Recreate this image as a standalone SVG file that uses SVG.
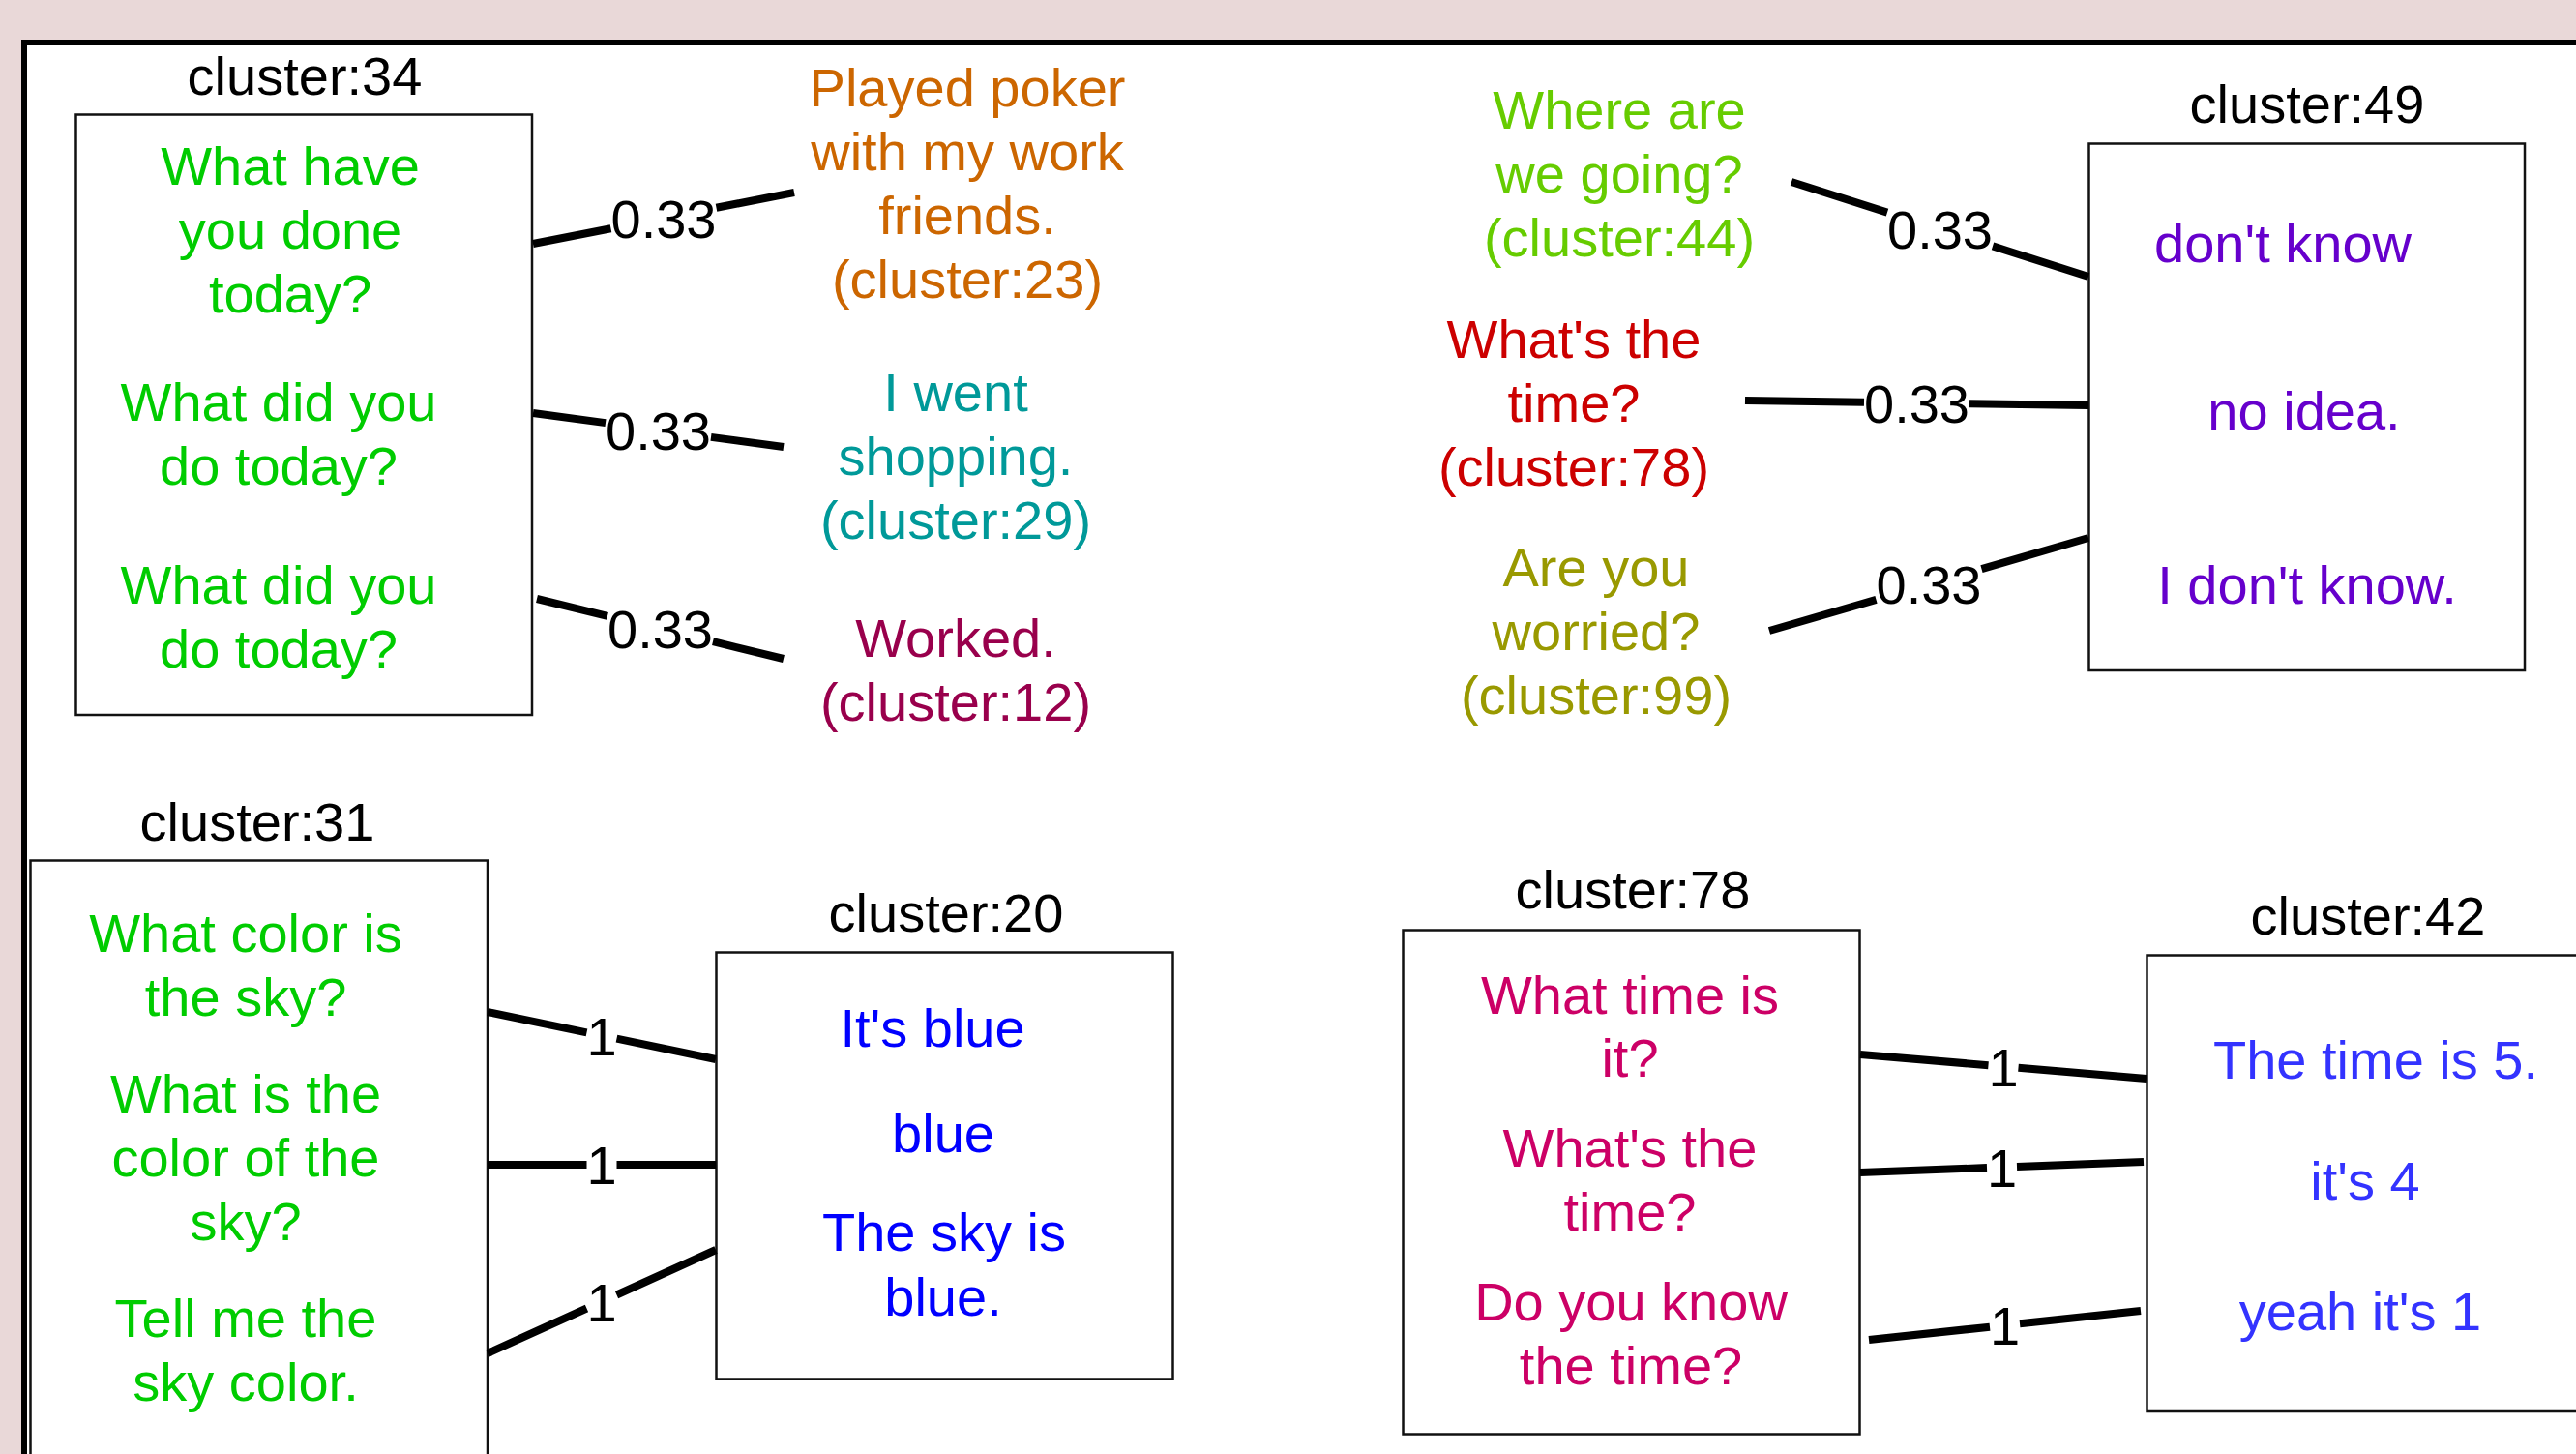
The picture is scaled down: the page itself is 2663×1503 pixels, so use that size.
<svg xmlns="http://www.w3.org/2000/svg" width="2663" height="1503" viewBox="0 0 2663 1503">
<style>
text{font-family:"Liberation Sans",Arial,Helvetica,sans-serif;font-size:56px;text-anchor:middle}
.box{fill:none;stroke:#111;stroke-width:2.5}
.cap{fill:#000}
.e{stroke:#000;stroke-width:8;fill:none}
.el{fill:#000}
.green{fill:#00cc00}
.orange{fill:#cc6600}
.teal{fill:#009999}
.maroon{fill:#99004c}
.lime{fill:#66cc00}
.red{fill:#cc0000}
.olive{fill:#999900}
.purple{fill:#6600cc}
.blue{fill:#0000ff}
.magenta{fill:#cc0066}
.blue2{fill:#3333ff}
</style>
<rect x="0" y="0" width="2663" height="1503" fill="#e9d8d8"/>
<rect x="25" y="44" width="2700" height="1520" fill="#ffffff" stroke="#000" stroke-width="6"/>

<g id="cluster34">
<text class="cap" x="315" y="98">cluster:34</text>
<rect class="box" x="78.5" y="118.5" width="471.5" height="620.5"/>
<text class="green" x="300" y="191">What have</text>
<text class="green" x="300" y="257">you done</text>
<text class="green" x="300" y="323">today?</text>
<text class="green" x="288" y="435">What did you</text>
<text class="green" x="288" y="501">do today?</text>
<text class="green" x="288" y="624">What did you</text>
<text class="green" x="288" y="690">do today?</text>
</g>

<g id="cluster23">
<text class="orange" x="1000" y="110">Played poker</text>
<text class="orange" x="1000" y="176">with my work</text>
<text class="orange" x="1000" y="242">friends.</text>
<text class="orange" x="1000" y="308">(cluster:23)</text>
</g>

<g id="cluster29">
<text class="teal" x="988" y="425">I went</text>
<text class="teal" x="988" y="491">shopping.</text>
<text class="teal" x="988" y="557">(cluster:29)</text>
</g>

<g id="cluster12">
<text class="maroon" x="988" y="679">Worked.</text>
<text class="maroon" x="988" y="745">(cluster:12)</text>
</g>

<g id="cluster44">
<text class="lime" x="1674" y="133">Where are</text>
<text class="lime" x="1674" y="199">we going?</text>
<text class="lime" x="1674" y="265">(cluster:44)</text>
</g>

<g id="cluster78q">
<text class="red" x="1627" y="370">What's the</text>
<text class="red" x="1627" y="436">time?</text>
<text class="red" x="1627" y="502">(cluster:78)</text>
</g>

<g id="cluster99">
<text class="olive" x="1650" y="606">Are you</text>
<text class="olive" x="1650" y="672">worried?</text>
<text class="olive" x="1650" y="738">(cluster:99)</text>
</g>

<g id="cluster49">
<text class="cap" x="2385" y="127">cluster:49</text>
<rect class="box" x="2159.5" y="148.5" width="450.5" height="544.5"/>
<text class="purple" x="2360" y="271">don't know</text>
<text class="purple" x="2382" y="444">no idea.</text>
<text class="purple" x="2385" y="624">I don't know.</text>
</g>

<g id="cluster31">
<text class="cap" x="266" y="869">cluster:31</text>
<rect class="box" x="31.5" y="889.5" width="472.5" height="700"/>
<text class="green" x="254" y="984">What color is</text>
<text class="green" x="254" y="1050">the sky?</text>
<text class="green" x="254" y="1150">What is the</text>
<text class="green" x="254" y="1216">color of the</text>
<text class="green" x="254" y="1282">sky?</text>
<text class="green" x="254" y="1382">Tell me the</text>
<text class="green" x="254" y="1448">sky color.</text>
</g>

<g id="cluster20">
<text class="cap" x="978" y="963">cluster:20</text>
<rect class="box" x="740.5" y="984.5" width="472" height="441"/>
<text class="blue" x="964" y="1082">It's blue</text>
<text class="blue" x="975" y="1191">blue</text>
<text class="blue" x="976" y="1293">The sky is</text>
<text class="blue" x="975" y="1360">blue.</text>
</g>

<g id="cluster78">
<text class="cap" x="1688" y="939">cluster:78</text>
<rect class="box" x="1450.5" y="961.5" width="472" height="521"/>
<text class="magenta" x="1685" y="1048">What time is</text>
<text class="magenta" x="1685" y="1113">it?</text>
<text class="magenta" x="1685" y="1206">What's the</text>
<text class="magenta" x="1685" y="1272">time?</text>
<text class="magenta" x="1686" y="1365">Do you know</text>
<text class="magenta" x="1686" y="1431">the time?</text>
</g>

<g id="cluster42">
<text class="cap" x="2448" y="966">cluster:42</text>
<rect class="box" x="2219.5" y="987.5" width="600" height="471.5"/>
<text class="blue2" x="2456" y="1115">The time is 5.</text>
<text class="blue2" x="2445" y="1240">it's 4</text>
<text class="blue2" x="2440" y="1375">yeah it's 1</text>
</g>

<g id="connectors">
<path class="e" d="M551,252 L631.5,236.2 M740.5,214.8 L821,199"/>
<text class="el" x="686" y="245.5">0.33</text>
<path class="e" d="M551,427 L626,437.1 M735,451.9 L810,462"/>
<text class="el" x="680.5" y="464.5">0.33</text>
<path class="e" d="M555,619 L628,636.8 M737,663.2 L810,681"/>
<text class="el" x="682.5" y="670">0.33</text>
<path class="e" d="M1852,188 L1951,219.6 M2060,254.4 L2159,286"/>
<text class="el" x="2005.5" y="257">0.33</text>
<path class="e" d="M1804,414 L1927,415.7 M2036,417.3 L2159,419"/>
<text class="el" x="1981.5" y="436.5">0.33</text>
<path class="e" d="M1829,652 L1939.5,619.9 M2048.5,588.1 L2159,556"/>
<text class="el" x="1994" y="624">0.33</text>
<path class="e" d="M504,1046 L606.5,1067.3 M637.5,1073.7 L740,1095"/>
<text class="el" x="622" y="1090.5">1</text>
<path class="e" d="M504,1204 L606.5,1204 M637.5,1204 L740,1204"/>
<text class="el" x="622" y="1224">1</text>
<path class="e" d="M504,1399 L606.5,1352.5 M637.5,1338.5 L740,1292"/>
<text class="el" x="622" y="1365.5">1</text>
<path class="e" d="M1923,1090 L2055.5,1101.2 M2086.5,1103.8 L2219,1115"/>
<text class="el" x="2071" y="1122.5">1</text>
<path class="e" d="M1923,1212 L2054,1207.1 M2085,1205.9 L2216,1201"/>
<text class="el" x="2069.5" y="1226.5">1</text>
<path class="e" d="M1932,1385 L2057,1371.7 M2088,1368.3 L2213,1355"/>
<text class="el" x="2072.5" y="1390">1</text>
</g>
</svg>
